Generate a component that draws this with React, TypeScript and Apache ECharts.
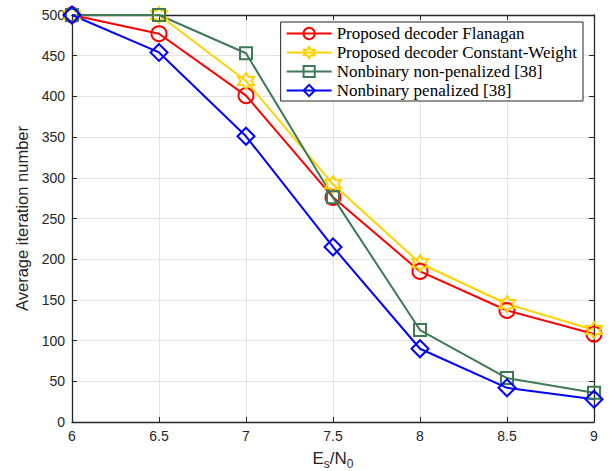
import React, { useEffect, useRef } from "react";
import * as echarts from "echarts";

const xValues = [6, 6.5, 7, 7.5, 8, 8.5, 9];
const flanagan = [500, 477, 401, 276, 185, 137, 108];
const constantWeight = [500, 500, 419, 292, 195, 145, 113];
const nonPenalized = [500, 500, 453, 276, 113, 54, 36];
const penalized = [500, 454, 351, 215, 90, 42, 28];
const seriesNames = [
  "Proposed decoder Flanagan",
  "Proposed decoder Constant-Weight",
  "Nonbinary non-penalized [38]",
  "Nonbinary penalized [38]",
];

const hexagram =
  "path://M10 0L12.887 5L18.66 5L15.77 10L18.66 15L12.887 15L10 20L7.113 15L1.34 15L4.23 10L1.34 5L7.113 5Z";

export default function App() {
  const ref = useRef<HTMLDivElement>(null);
  useEffect(() => {
    if (!ref.current) return;
    const chart = echarts.init(ref.current, undefined, { renderer: "svg" });
    const axisColor = "#262626";
    const mk = (name: string, data: number[], color: string, symbol: string, size: number) => ({
      name,
      type: "line",
      data: xValues.map((x, i) => [x, data[i]]),
      symbol,
      symbolSize: size,
      showAllSymbol: true,
      lineStyle: { color, width: 2 },
      itemStyle: { color: "rgba(255,255,255,0)", borderColor: color, borderWidth: 2 },
      emphasis: { disabled: true },
      z: 3,
    });
    const valueAxisCommon = {
      axisLine: { show: true, onZero: false, lineStyle: { color: axisColor, width: 1.3 } },
      axisTick: { show: true, inside: true, length: 5, lineStyle: { color: axisColor } },
    };
    chart.setOption({
      animation: false,
      backgroundColor: "#fff",
      grid: { left: 72, right: 21, top: 15, bottom: 49, containLabel: false, outerBoundsMode: "none" },
      legend: {
        orient: "vertical",
        right: 32,
        top: 22,
        itemWidth: 45,
        itemHeight: 14,
        itemGap: 2,
        padding: [3, 6, 2, 5],
        borderColor: axisColor,
        borderWidth: 1,
        borderRadius: 0,
        backgroundColor: "#fff",
        textStyle: { fontFamily: "Liberation Serif", fontSize: 17, lineHeight: 17, color: "#000" },
        data: seriesNames,
      },
      xAxis: [
        {
          type: "value",
          min: 6,
          max: 9,
          interval: 0.5,
          position: "bottom",
          name: "{a|E}{s|s}{a|/N}{s|0}",
          nameLocation: "middle",
          nameGap: 25,
          nameTextStyle: {
            rich: {
              a: { fontFamily: "Liberation Sans", fontSize: 17, color: axisColor },
              s: { fontFamily: "Liberation Sans", fontSize: 12, color: axisColor, padding: [11, 0, 0, 0] },
            },
          },
          axisLabel: { color: axisColor, fontFamily: "Liberation Sans", fontSize: 14, margin: 7 },
          splitLine: { show: true, lineStyle: { color: "#e3e3e3", width: 1 } },
          ...valueAxisCommon,
        },
        {
          type: "value",
          min: 6,
          max: 9,
          interval: 0.5,
          position: "top",
          axisLabel: { show: false },
          splitLine: { show: false },
          ...valueAxisCommon,
        },
      ],
      yAxis: [
        {
          type: "value",
          min: 0,
          max: 500,
          interval: 50,
          position: "left",
          name: "Average iteration number",
          nameLocation: "middle",
          nameGap: 39,
          nameTextStyle: { fontFamily: "Liberation Sans", fontSize: 16.5, color: axisColor },
          axisLabel: { color: axisColor, fontFamily: "Liberation Sans", fontSize: 14, margin: 7 },
          splitLine: { show: true, lineStyle: { color: "#e3e3e3", width: 1 } },
          ...valueAxisCommon,
        },
        {
          type: "value",
          min: 0,
          max: 500,
          interval: 50,
          position: "right",
          axisLabel: { show: false },
          splitLine: { show: false },
          ...valueAxisCommon,
        },
      ],
      series: [
        mk(seriesNames[0], flanagan, "#ff0000", "circle", 15),
        mk(seriesNames[1], constantWeight, "#ffd200", hexagram, 16),
        mk(seriesNames[2], nonPenalized, "#3d7a55", "rect", 12),
        mk(seriesNames[3], penalized, "#0000ff", "diamond", 17),
      ],
    });
    return () => chart.dispose();
  }, []);
  return <div ref={ref} style={{ width: 615, height: 471, position: "absolute", left: 0, top: 0 }} />;
}
